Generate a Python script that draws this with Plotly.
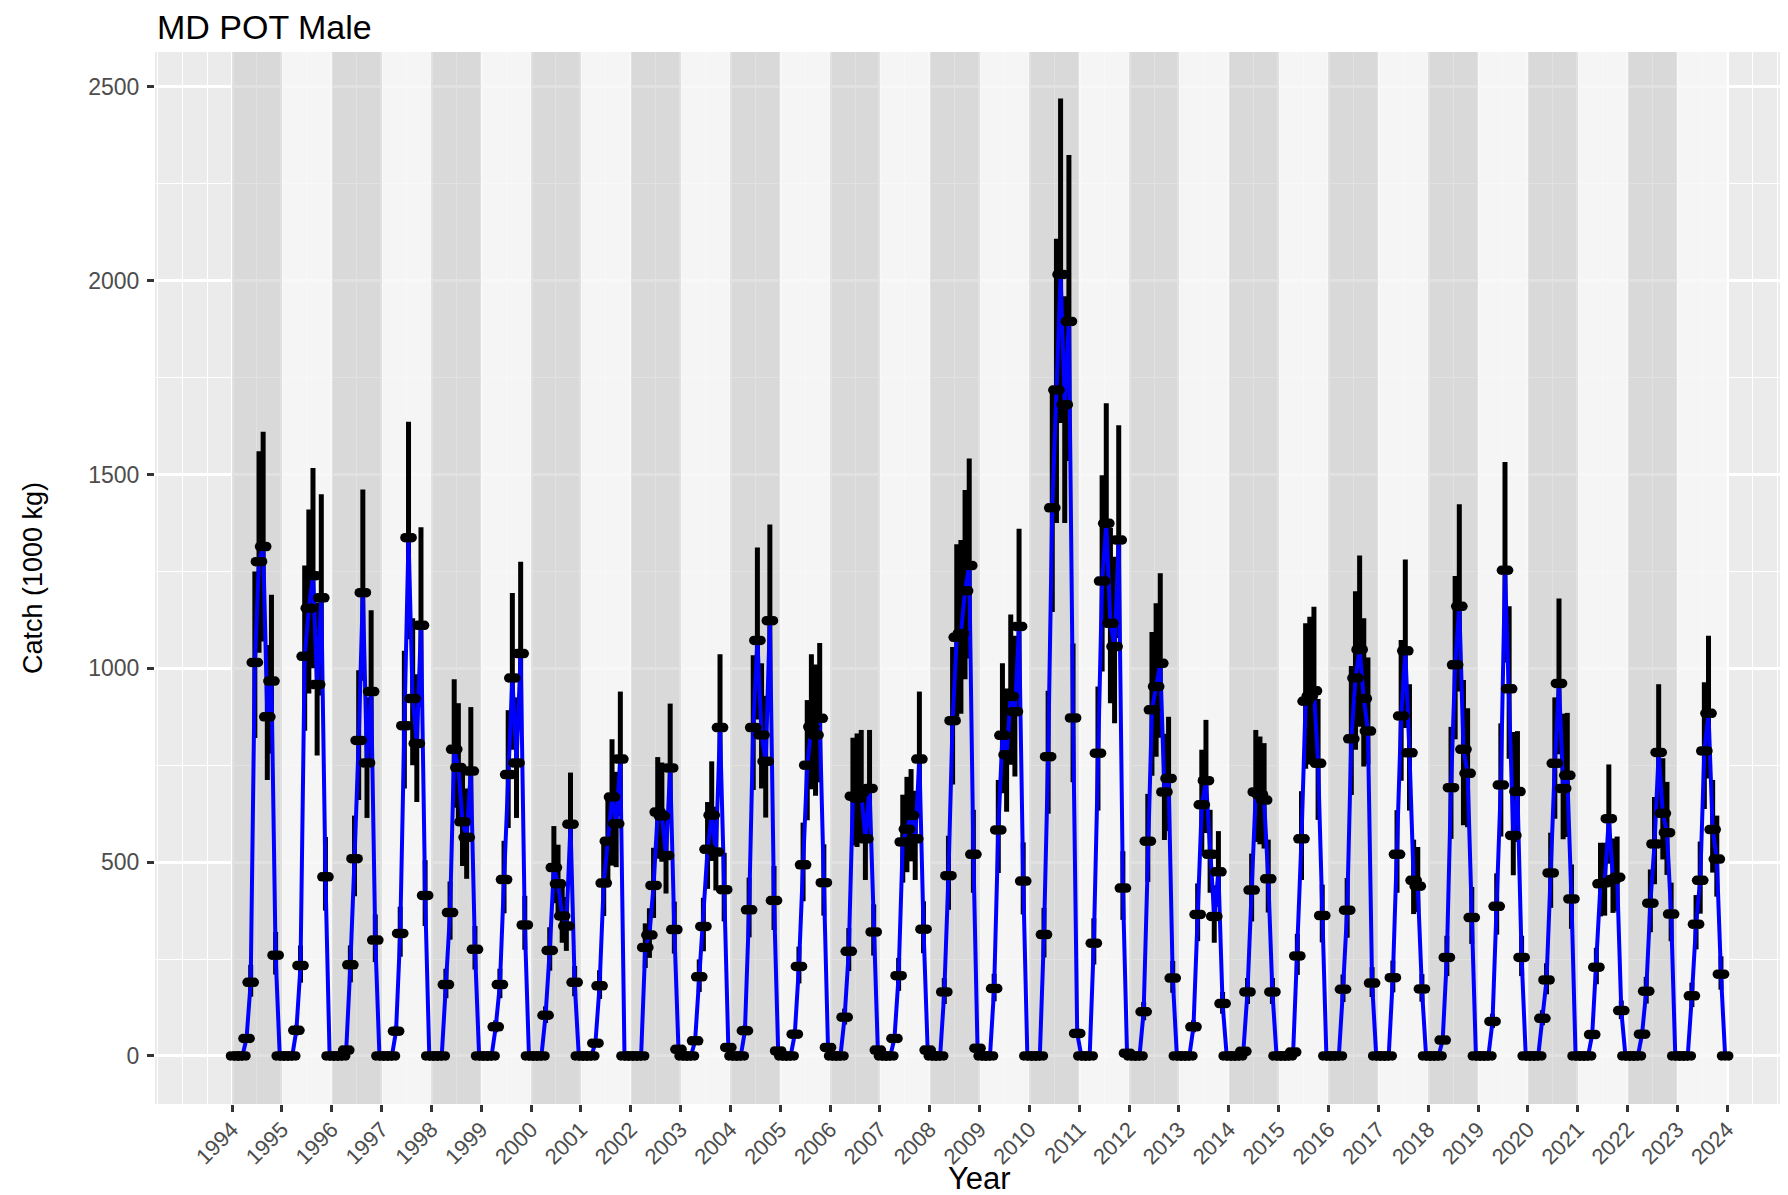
import plotly.graph_objects as go

years = list(range(1994, 2024))
tick_years = list(range(1994, 2025))

# monthly catch (1000 kg), 12 values per year
catch = [
    [0, 0, 0, 45, 190, 1015, 1275, 1314, 875, 967, 260, 0],      # 1994
    [0, 0, 0, 66, 233, 1031, 1155, 1239, 958, 1182, 462, 0],     # 1995
    [0, 0, 0, 15, 235, 509, 814, 1195, 756, 940, 299, 0],        # 1996
    [0, 0, 0, 64, 316, 852, 1337, 922, 806, 1111, 414, 0],       # 1997
    [0, 0, 0, 184, 370, 791, 744, 604, 564, 735, 275, 0],        # 1998
    [0, 0, 0, 75, 184, 455, 726, 975, 756, 1038, 338, 0],        # 1999
    [0, 0, 0, 105, 272, 486, 444, 361, 335, 598, 190, 0],        # 2000
    [0, 0, 0, 33, 181, 446, 554, 668, 599, 766, 0, 0],           # 2001
    [0, 0, 0, 280, 312, 440, 629, 619, 517, 743, 326, 17],       # 2002
    [0, 0, 0, 39, 204, 334, 533, 621, 526, 847, 429, 22],        # 2003
    [0, 0, 0, 65, 377, 847, 1072, 828, 760, 1123, 401, 13],      # 2004
    [0, 0, 0, 56, 231, 493, 750, 849, 828, 871, 447, 22],        # 2005
    [0, 0, 0, 100, 270, 670, 665, 680, 560, 690, 320, 15],       # 2006
    [0, 0, 0, 45, 207, 552, 585, 620, 560, 766, 327, 15],        # 2007
    [0, 0, 0, 165, 465, 865, 1080, 1090, 1200, 1265, 520, 20],   # 2008
    [0, 0, 0, 174, 583, 827, 777, 927, 888, 1108, 451, 0],       # 2009
    [0, 0, 0, 313, 772, 1414, 1718, 2016, 1680, 1895, 872, 58],  # 2010
    [0, 0, 0, 291, 781, 1225, 1374, 1116, 1056, 1331, 433, 7],   # 2011
    [0, 0, 0, 114, 554, 893, 953, 1013, 681, 716, 201, 0],       # 2012
    [0, 0, 0, 75, 365, 648, 710, 520, 360, 475, 135, 0],         # 2013
    [0, 0, 0, 12, 165, 428, 681, 674, 660, 457, 165, 0],         # 2014
    [0, 0, 0, 10, 258, 560, 915, 928, 942, 755, 362, 0],         # 2015
    [0, 0, 0, 172, 376, 818, 975, 1048, 922, 838, 188, 0],       # 2016
    [0, 0, 0, 202, 520, 877, 1045, 782, 453, 438, 173, 0],       # 2017
    [0, 0, 0, 41, 254, 692, 1009, 1160, 791, 729, 357, 0],       # 2018
    [0, 0, 0, 89, 386, 699, 1253, 947, 569, 682, 254, 0],        # 2019
    [0, 0, 0, 97, 196, 472, 755, 961, 690, 724, 405, 0],         # 2020
    [0, 0, 0, 55, 229, 444, 447, 612, 455, 461, 117, 0],         # 2021
    [0, 0, 0, 56, 167, 394, 547, 783, 626, 576, 366, 0],         # 2022
    [0, 0, 0, 155, 340, 453, 787, 884, 584, 508, 211, 0],        # 2023
]

ci_upper = [
    [0, 0, 0, 55, 235, 1250, 1560, 1610, 1060, 1190, 320, 0],
    [0, 0, 0, 80, 285, 1265, 1410, 1517, 1170, 1449, 565, 0],
    [0, 0, 0, 18, 285, 620, 995, 1461, 925, 1150, 365, 0],
    [0, 0, 0, 78, 385, 1045, 1636, 1129, 985, 1364, 505, 0],
    [0, 0, 0, 225, 450, 972, 910, 740, 690, 900, 335, 0],
    [0, 0, 0, 92, 225, 555, 892, 1194, 925, 1275, 413, 0],
    [0, 0, 0, 128, 332, 593, 545, 441, 410, 731, 232, 0],
    [0, 0, 0, 40, 221, 545, 677, 817, 733, 940, 0, 0],
    [0, 0, 0, 342, 381, 537, 771, 757, 632, 909, 398, 21],
    [0, 0, 0, 48, 249, 408, 655, 760, 643, 1036, 524, 27],
    [0, 0, 0, 79, 460, 1034, 1312, 1013, 929, 1371, 490, 16],
    [0, 0, 0, 68, 282, 602, 918, 1036, 1010, 1065, 546, 27],
    [0, 0, 0, 122, 330, 821, 832, 841, 684, 841, 391, 18],
    [0, 0, 0, 55, 253, 674, 720, 740, 684, 940, 399, 18],
    [0, 0, 0, 201, 568, 1055, 1320, 1331, 1460, 1541, 635, 24],
    [0, 0, 0, 212, 712, 1013, 948, 1139, 1084, 1360, 551, 0],
    [0, 0, 0, 382, 942, 1724, 2108, 2470, 1960, 2324, 1064, 71],
    [0, 0, 0, 355, 953, 1498, 1684, 1362, 1288, 1627, 528, 9],
    [0, 0, 0, 139, 676, 1094, 1168, 1245, 831, 875, 245, 0],
    [0, 0, 0, 92, 445, 790, 867, 635, 440, 580, 165, 0],
    [0, 0, 0, 15, 201, 522, 841, 824, 807, 558, 201, 0],
    [0, 0, 0, 12, 315, 683, 1116, 1133, 1159, 921, 442, 0],
    [0, 0, 0, 210, 459, 1006, 1199, 1291, 1129, 1028, 229, 0],
    [0, 0, 0, 246, 634, 1073, 1281, 959, 558, 539, 211, 0],
    [0, 0, 0, 50, 310, 849, 1238, 1423, 970, 897, 436, 0],
    [0, 0, 0, 109, 471, 858, 1532, 1160, 836, 838, 310, 0],
    [0, 0, 0, 118, 239, 576, 925, 1180, 883, 885, 494, 0],
    [0, 0, 0, 67, 279, 550, 550, 752, 561, 566, 143, 0],
    [0, 0, 0, 68, 204, 481, 668, 959, 768, 707, 447, 0],
    [0, 0, 0, 189, 415, 553, 964, 1084, 712, 620, 257, 0],
]

ci_lower = [
    [0, 0, 0, 36, 153, 820, 1040, 1069, 712, 780, 210, 0],
    [0, 0, 0, 53, 189, 839, 935, 1000, 775, 930, 375, 0],
    [0, 0, 0, 12, 190, 412, 660, 968, 614, 760, 242, 0],
    [0, 0, 0, 52, 256, 690, 1075, 750, 655, 900, 335, 0],
    [0, 0, 0, 149, 300, 640, 600, 490, 457, 595, 223, 0],
    [0, 0, 0, 61, 149, 368, 588, 790, 614, 840, 274, 0],
    [0, 0, 0, 85, 220, 394, 360, 292, 271, 484, 154, 0],
    [0, 0, 0, 27, 147, 361, 449, 491, 487, 620, 0, 0],
    [0, 0, 0, 227, 253, 356, 509, 501, 419, 602, 264, 14],
    [0, 0, 0, 32, 165, 270, 431, 503, 427, 686, 347, 18],
    [0, 0, 0, 53, 306, 686, 868, 690, 615, 910, 325, 11],
    [0, 0, 0, 45, 187, 399, 608, 688, 671, 706, 362, 18],
    [0, 0, 0, 81, 219, 543, 539, 551, 454, 559, 259, 12],
    [0, 0, 0, 36, 168, 447, 474, 502, 454, 620, 265, 12],
    [0, 0, 0, 134, 377, 700, 875, 883, 972, 1025, 421, 16],
    [0, 0, 0, 141, 472, 678, 630, 751, 721, 898, 365, 0],
    [0, 0, 0, 254, 625, 1145, 1375, 1633, 1375, 1535, 706, 47],
    [0, 0, 0, 236, 633, 992, 1113, 910, 858, 1078, 351, 6],
    [0, 0, 0, 92, 449, 723, 772, 821, 557, 580, 163, 0],
    [0, 0, 0, 61, 296, 525, 575, 421, 292, 385, 109, 0],
    [0, 0, 0, 10, 134, 347, 552, 546, 535, 370, 134, 0],
    [0, 0, 0, 8, 209, 454, 741, 752, 763, 609, 293, 0],
    [0, 0, 0, 139, 305, 673, 790, 849, 747, 752, 152, 0],
    [0, 0, 0, 164, 421, 710, 846, 633, 366, 371, 140, 0],
    [0, 0, 0, 33, 206, 560, 817, 940, 595, 590, 289, 0],
    [0, 0, 0, 72, 313, 566, 1015, 767, 466, 552, 206, 0],
    [0, 0, 0, 79, 159, 382, 612, 778, 559, 565, 328, 0],
    [0, 0, 0, 45, 185, 360, 362, 496, 369, 373, 95, 0],
    [0, 0, 0, 45, 135, 319, 443, 634, 507, 467, 296, 0],
    [0, 0, 0, 126, 275, 367, 637, 716, 473, 411, 171, 0],
]

Y_MIN, Y_MAX = -124, 2590

# ---- flatten to a monthly series ----
t, v, err_plus, err_minus = [], [], [], []
for i, yr in enumerate(years):
    for k in range(12):
        t.append(yr + (k + 0.5) / 12)
        val = catch[i][k]
        v.append(val)
        err_plus.append(max(ci_upper[i][k] - val, 0))
        err_minus.append(max(val - ci_lower[i][k], 0))

FONT = "Liberation Sans, Arial, Helvetica, sans-serif"
W, H = 1780, 1187  # page body has an 8 px margin

fig = go.Figure()

# alternating year stripes (drawn as a bar trace above the grid)
fig.add_trace(go.Bar(
    x=[yr + 0.5 for yr in years],
    y=[Y_MAX - Y_MIN] * len(years),
    base=Y_MIN, width=1,
    marker=dict(color=["rgba(205,205,205,0.6)" if (yr - 1994) % 2 == 0
                       else "rgba(247,247,247,0.85)" for yr in years],
                line=dict(width=0)),
    hoverinfo="skip", showlegend=False))

# error bars
fig.add_trace(go.Scatter(
    x=t, y=v, mode="markers",
    marker=dict(size=2, color="rgba(0,0,0,0)"),
    error_y=dict(type="data", symmetric=False, array=err_plus, arrayminus=err_minus,
                 color="black", thickness=5, width=0),
    hoverinfo="skip", showlegend=False))

# fitted line
fig.add_trace(go.Scatter(
    x=t, y=v, mode="lines",
    line=dict(color="#0000FF", width=4),
    hoverinfo="skip", showlegend=False))

# points: elliptical dots built from three overlapping circles
dx = 3.6 / 49.83  # ~3.6 px in years
for off in (-dx, 0.0, dx):
    fig.add_trace(go.Scatter(
        x=[ti + off for ti in t], y=v, mode="markers",
        marker=dict(symbol="circle", size=9.5, color="black", line=dict(width=0)),
        hoverinfo="skip", showlegend=False))

fig.update_layout(
    width=W, height=H,
    margin=dict(l=147, r=0, t=44, b=91),
    paper_bgcolor="white",
    plot_bgcolor="#EBEBEB",
    font=dict(family=FONT, color="black"),
    bargap=0,
    title=dict(text="MD POT Male", x=149 / W, xanchor="left",
               y=1 - 19 / H, yanchor="middle",
               font=dict(size=34, family=FONT, color="black")),
    showlegend=False,
    annotations=[
        dict(text="Year", xref="paper", yref="paper", x=0.505, y=-0.071,
             xanchor="center", yanchor="middle", showarrow=False,
             font=dict(size=31, family=FONT, color="black")),
        dict(text="Catch (1000 kg)", xref="paper", yref="paper", x=-0.075, y=0.4995,
             xanchor="center", yanchor="middle", textangle=-90, showarrow=False,
             font=dict(size=27, family=FONT, color="black")),
    ],
)

fig.update_xaxes(
    range=[1992.455, 2025.22],
    tickmode="array", tickvals=tick_years, ticktext=[str(y) for y in tick_years],
    tickangle=-45, ticks="outside", ticklen=7, tickwidth=2.5, tickcolor="#333333",
    tickfont=dict(size=22, color="#4D4D4D", family=FONT),
    ticklabelstandoff=-4,
    showgrid=True, gridcolor="white", gridwidth=2.5,
    minor=dict(dtick=0.5, tick0=0, showgrid=True, gridcolor="white", gridwidth=1.2),
    zeroline=False, showline=False,
)
fig.update_yaxes(
    range=[Y_MIN, Y_MAX],
    tickmode="linear", tick0=0, dtick=500,
    ticks="outside", ticklen=7, tickwidth=2.5, tickcolor="#333333",
    tickfont=dict(size=23, color="#4D4D4D", family=FONT),
    ticklabelstandoff=3,
    showgrid=True, gridcolor="white", gridwidth=2.5,
    minor=dict(dtick=250, showgrid=True, gridcolor="white", gridwidth=1.2),
    zeroline=False, showline=False,
)

fig.write_html("out.html")
